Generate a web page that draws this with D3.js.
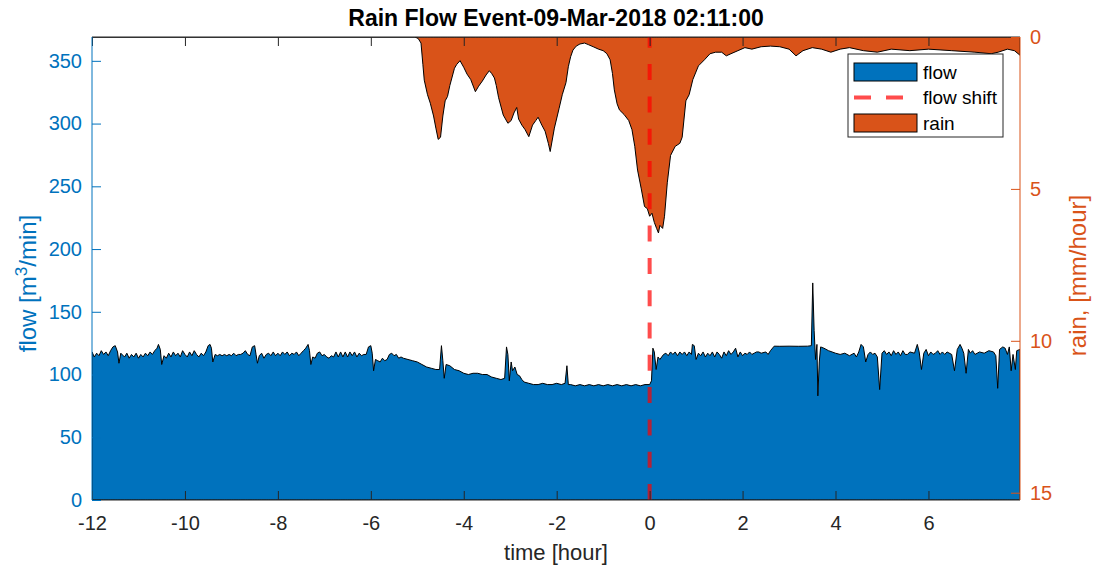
<!DOCTYPE html>
<html>
<head>
<meta charset="utf-8">
<script src="https://cdn.jsdelivr.net/npm/d3@7"></script>
<style>
  body { margin: 0; background: #fff; }
  text { font-family: "Liberation Sans", Arial, Helvetica, sans-serif; }
</style>
</head>
<body>
<script>
// time in hours relative to the flow shift
var flowTime = [-12.0,-11.95,-11.9,-11.85,-11.8,-11.75,-11.7,-11.65,-11.6,-11.55,-11.5,-11.45,-11.42,-11.38,-11.3,-11.25,-11.2,-11.15,-11.1,-11.05,
  -11.0,-10.95,-10.9,-10.85,-10.8,-10.75,-10.7,-10.65,-10.6,-10.57,-10.53,-10.5,-10.45,-10.4,-10.35,-10.3,-10.25,-10.2,-10.15,-10.1,
  -10.05,-10.0,-9.95,-9.9,-9.85,-9.8,-9.75,-9.7,-9.65,-9.6,-9.55,-9.5,-9.46,-9.43,-9.4,-9.35,-9.3,-9.25,-9.2,-9.15,
  -9.1,-9.05,-9.0,-8.95,-8.9,-8.85,-8.8,-8.75,-8.7,-8.65,-8.6,-8.55,-8.5,-8.47,-8.44,-8.4,-8.35,-8.3,-8.25,-8.2,
  -8.15,-8.1,-8.05,-8.0,-7.95,-7.9,-7.85,-7.8,-7.75,-7.7,-7.65,-7.6,-7.55,-7.5,-7.45,-7.4,-7.35,-7.32,-7.29,-7.25,
  -7.2,-7.15,-7.1,-7.05,-7.0,-6.95,-6.9,-6.85,-6.8,-6.75,-6.7,-6.65,-6.6,-6.55,-6.5,-6.45,-6.4,-6.35,-6.3,-6.25,
  -6.2,-6.15,-6.1,-6.05,-6.0,-5.97,-5.94,-5.9,-5.85,-5.8,-5.75,-5.7,-5.65,-5.6,-5.55,-5.5,-5.45,-5.4,-5.35,-5.3,
  -5.2,-5.1,-5.0,-4.9,-4.8,-4.7,-4.6,-4.52,-4.48,-4.45,-4.42,-4.38,-4.3,-4.2,-4.1,-4.0,-3.9,-3.8,-3.7,-3.6,
  -3.5,-3.4,-3.3,-3.2,-3.12,-3.08,-3.05,-3.02,-2.98,-2.95,-2.9,-2.85,-2.8,-2.75,-2.7,-2.6,-2.5,-2.4,-2.3,-2.2,
  -2.1,-2.0,-1.9,-1.82,-1.78,-1.75,-1.7,-1.6,-1.5,-1.4,-1.3,-1.2,-1.1,-1.0,-0.9,-0.8,-0.7,-0.6,-0.5,-0.4,
  -0.3,-0.2,-0.1,0.0,0.04,0.07,0.1,0.14,0.18,0.22,0.3,0.35,0.4,0.45,0.5,0.55,0.6,0.65,0.7,0.75,
  0.8,0.85,0.9,0.92,0.96,1.0,1.05,1.1,1.15,1.2,1.25,1.3,1.35,1.4,1.45,1.5,1.55,1.6,1.65,1.7,
  1.75,1.8,1.85,1.9,1.95,2.0,2.05,2.1,2.15,2.2,2.25,2.3,2.35,2.4,2.5,2.55,2.6,2.68,2.8,3.0,
  3.2,3.4,3.48,3.51,3.54,3.57,3.6,3.62,3.65,3.68,3.75,3.85,4.0,4.1,4.2,4.3,4.4,4.45,4.5,4.55,
  4.6,4.65,4.7,4.75,4.8,4.85,4.9,4.95,5.0,5.05,5.1,5.15,5.2,5.25,5.3,5.35,5.4,5.45,5.5,5.55,
  5.6,5.7,5.76,5.8,5.85,5.9,5.95,6.0,6.05,6.1,6.15,6.2,6.25,6.3,6.35,6.4,6.5,6.56,6.62,6.68,
  6.72,6.76,6.81,6.86,6.9,6.95,7.0,7.1,7.2,7.3,7.4,7.45,7.49,7.53,7.6,7.65,7.7,7.74,7.78,7.82,
  7.87,7.9,7.97];

// flow [m3/min]
var flowValue = [118,114,117,115,119,116,118,115,119,122,123,118,109,117,114,117,113,116,114,117,
  113,116,114,117,115,118,116,119,121,124,120,108,115,113,117,114,118,115,117,114,
  119,116,114,118,115,119,116,114,117,115,118,123,124,121,110,116,115,116,115,116,
  115,116,115,117,115,116,116,117,119,116,115,122,123,116,109,115,117,113,116,117,
  115,118,115,117,115,118,116,118,115,117,116,118,115,117,119,121,124,119,108,114,
  113,117,118,115,116,114,113,115,114,118,114,118,114,118,114,118,115,118,114,117,
  115,116,116,122,123,117,103,112,111,110,113,111,112,116,117,115,116,113,114,113,
  112,111,110,108,106,105,104,104,123,111,97,108,107,104,103,101,100,101,101,100,
  100,98,97,96,97,122,116,95,110,103,106,100,99,96,94,93,92,92,93,92,
  92,93,92,93,107,92,92,91,92,91,92,91,92,91,92,91,92,91,92,91,
  92,91,92,92,95,121,118,104,114,112,116,117,115,118,116,118,115,118,116,118,
  115,118,116,124,123,112,117,115,118,114,117,115,118,114,118,116,113,118,115,119,
  116,118,121,114,118,115,117,116,118,116,117,118,118,117,118,116,119,122.6,122.5,122.6,
  122.5,122.6,123,173,135,112,124,83,110,122,121,119,117,116,117,115,117,114,118,124,
  122,110,116,118,116,117,114,88,117,119,116,118,115,119,116,118,115,119,116,116,
  118,117,124,118,104,117,120,115,118,116,117,119,116,118,116,118,116,103,120,124,
  121,117,101,120,117,119,116,118,117,119,118,115,89,120,122,121,116,122,103,116,
  104,119,120];

// rain [mm/hour]
var rainTime = [-12.0,-5.05,-4.98,-4.92,-4.88,-4.85,-4.78,-4.72,-4.65,-4.6,-4.55,-4.5,-4.45,-4.4,-4.35,-4.3,-4.2,-4.15,-4.08,-4.0,
  -3.93,-3.85,-3.75,-3.68,-3.6,-3.52,-3.45,-3.4,-3.34,-3.3,-3.25,-3.15,-3.05,-2.98,-2.92,-2.86,-2.82,-2.75,-2.68,-2.6,
  -2.52,-2.45,-2.4,-2.32,-2.25,-2.18,-2.14,-2.05,-1.95,-1.88,-1.8,-1.75,-1.7,-1.65,-1.58,-1.5,-1.4,-1.32,-1.2,-1.1,
  -1.0,-0.92,-0.85,-0.8,-0.76,-0.7,-0.65,-0.55,-0.45,-0.38,-0.32,-0.26,-0.18,-0.11,-0.05,0.0,0.05,0.1,0.15,0.19,
  0.22,0.28,0.32,0.38,0.45,0.55,0.65,0.7,0.78,0.85,0.93,1.05,1.18,1.3,1.42,1.55,1.65,1.75,1.9,2.05,
  2.2,2.4,2.6,2.8,3.0,3.15,3.3,3.5,3.7,3.9,4.1,4.3,4.6,4.9,5.2,5.6,6.0,6.5,7.0,7.35,
  7.5,7.7,7.85,7.97];
var rainValue = [0,0,0.05,0.2,0.9,1.42,1.9,2.18,2.6,3.0,3.37,3.3,2.6,2.1,1.96,1.6,1.03,0.9,0.78,1.0,
  1.22,1.4,1.8,1.62,1.45,1.25,1.11,1.2,1.35,1.6,2.0,2.57,2.84,2.75,2.5,2.32,2.7,2.9,3.05,3.28,
  2.9,2.75,2.64,2.9,3.1,3.5,3.77,3.0,2.36,1.9,1.5,0.98,0.65,0.43,0.3,0.23,0.2,0.25,0.33,0.4,
  0.45,0.55,0.75,1.2,1.74,2.2,2.4,2.55,2.75,3.05,3.6,4.38,5.0,5.58,5.65,5.9,5.8,6.1,6.3,6.45,
  6.2,6.3,5.9,4.8,3.9,3.6,3.5,3.3,2.1,1.9,1.4,0.95,0.75,0.55,0.5,0.5,0.62,0.55,0.45,0.35,
  0.4,0.32,0.3,0.32,0.4,0.62,0.45,0.35,0.4,0.5,0.4,0.35,0.45,0.5,0.4,0.45,0.4,0.45,0.5,0.55,
  0.5,0.4,0.45,0.6];

var xTicks = [-12,-10,-8,-6,-4,-2,0,2,4,6];
var flowTicks = [0,50,100,150,200,250,300,350];
var rainTicks = [0,5,10,15];
var shiftTime = 0;

var flow = flowTime.map(function(t, i) { return {t: t, v: flowValue[i]}; });
var rain = rainTime.map(function(t, i) { return {t: t, v: rainValue[i]}; });

var blue = "#0072BD", orange = "#D95319", dark = "#262626";
var margin = {top: 37, right: 74, bottom: 67, left: 92},
    width = 1094 - margin.left - margin.right,
    height = 567 - margin.top - margin.bottom;

var x = d3.scaleLinear().domain([-12, 7.97]).range([0, width]);
var yL = d3.scaleLinear().domain([0, 369]).range([height, 0]);
var yR = d3.scaleLinear().domain([0, 15.24]).range([0, height]);
var plain = function(d) { return String(d); };  // hyphen minus like MATLAB

var svg = d3.select("body").append("svg")
    .attr("width", 1094).attr("height", 567)
  .append("g")
    .attr("transform", "translate(" + margin.left + "," + margin.top + ")");

svg.append("clipPath").attr("id", "clip")
  .append("rect").attr("width", width).attr("height", height);

var plot = svg.append("g").attr("clip-path", "url(#clip)");

// flow area
plot.append("path")
    .datum(flow)
    .attr("fill", blue)
    .attr("stroke", "#000")
    .attr("stroke-width", 1)
    .attr("d", d3.area()
      .x(function(d) { return x(d.t); })
      .y0(yL(0))
      .y1(function(d) { return yL(d.v); }));

// rain area (hanging from the top)
plot.append("path")
    .datum(rain)
    .attr("fill", orange)
    .attr("stroke", "#000")
    .attr("stroke-width", 1)
    .attr("d", d3.area()
      .x(function(d) { return x(d.t); })
      .y0(yR(0))
      .y1(function(d) { return yR(d.v); }));

// flow shift line, drawn from the bottom up
plot.append("line")
    .attr("x1", x(shiftTime)).attr("x2", x(shiftTime))
    .attr("y1", height).attr("y2", 0)
    .attr("stroke", "#ff0000")
    .attr("stroke-opacity", 0.7)
    .attr("stroke-width", 4)
    .attr("stroke-dasharray", "16,16.3");

// axes
var xAxis = svg.append("g")
    .attr("transform", "translate(0," + height + ")")
    .call(d3.axisBottom(x).tickValues(xTicks).tickFormat(plain).tickSize(-9).tickPadding(16));
var xTop = svg.append("g")
    .call(d3.axisTop(x).tickValues(xTicks).tickSize(-9).tickFormat(""));
[xAxis, xTop].forEach(function(g) {
  g.select(".domain").attr("stroke", dark).attr("d", "M0,0H" + width);
  g.selectAll(".tick line").attr("stroke", dark);
});
xAxis.selectAll("text").attr("fill", dark).style("font-size", "20px");

var yAxisL = svg.append("g")
    .call(d3.axisLeft(yL).tickValues(flowTicks).tickFormat(plain).tickSize(-9).tickPadding(10));
yAxisL.select(".domain").attr("stroke", blue).attr("d", "M0,0V" + height);
yAxisL.selectAll(".tick line").attr("stroke", blue);
yAxisL.selectAll("text").attr("fill", blue).style("font-size", "20px");

var yAxisR = svg.append("g")
    .attr("transform", "translate(" + width + ",0)")
    .call(d3.axisRight(yR).tickValues(rainTicks).tickFormat(plain).tickSize(-9).tickPadding(10));
yAxisR.select(".domain").attr("stroke", orange).attr("d", "M0,0V" + height);
yAxisR.selectAll(".tick line").attr("stroke", orange);
yAxisR.selectAll("text").attr("fill", orange).style("font-size", "20px");

// titles
svg.append("text")
    .attr("x", width / 2).attr("y", -11)
    .attr("text-anchor", "middle")
    .style("font-size", "23px").style("font-weight", "bold")
    .attr("fill", "#000")
    .text("Rain Flow Event-09-Mar-2018 02:11:00");

svg.append("text")
    .attr("x", width / 2).attr("y", height + 60)
    .attr("text-anchor", "middle")
    .style("font-size", "22px")
    .attr("fill", dark)
    .text("time [hour]");

var yl = svg.append("text")
    .attr("transform", "translate(-56," + (height / 2 + 15) + ") rotate(-90)")
    .attr("text-anchor", "middle")
    .style("font-size", "24px")
    .attr("fill", blue);
yl.append("tspan").text("flow [m");
yl.append("tspan").attr("dy", -9).style("font-size", "17px").text("3");
yl.append("tspan").attr("dy", 9).text("/min]");

svg.append("text")
    .attr("transform", "translate(" + (width + 66) + "," + (height / 2 + 7) + ") rotate(-90)")
    .attr("text-anchor", "middle")
    .style("font-size", "24px")
    .attr("fill", orange)
    .text("rain, [mm/hour]");

// legend
var lg = svg.append("g").attr("transform", "translate(" + (848 - margin.left) + "," + (54 - margin.top) + ")");
lg.append("rect").attr("width", 155).attr("height", 83)
    .attr("fill", "#fff").attr("stroke", dark).attr("stroke-width", 1);
var items = [
  {label: "flow", type: "patch", color: blue},
  {label: "flow shift", type: "line"},
  {label: "rain", type: "patch", color: orange}
];
items.forEach(function(d, i) {
  var cy = 18 + i * 25.5;
  if (d.type === "patch") {
    lg.append("rect").attr("x", 6).attr("y", cy - 9).attr("width", 63).attr("height", 18)
      .attr("fill", d.color).attr("stroke", "#000").attr("stroke-width", 1);
  } else {
    lg.append("line").attr("x1", 6).attr("x2", 69).attr("y1", cy).attr("y2", cy)
      .attr("stroke", "#ff0000").attr("stroke-opacity", 0.7).attr("stroke-width", 4)
      .attr("stroke-dasharray", "17,15");
  }
  lg.append("text").attr("x", 75).attr("y", cy).attr("dy", "0.35em")
    .style("font-size", "19px").attr("fill", "#000").text(d.label);
});
</script>
</body>
</html>
